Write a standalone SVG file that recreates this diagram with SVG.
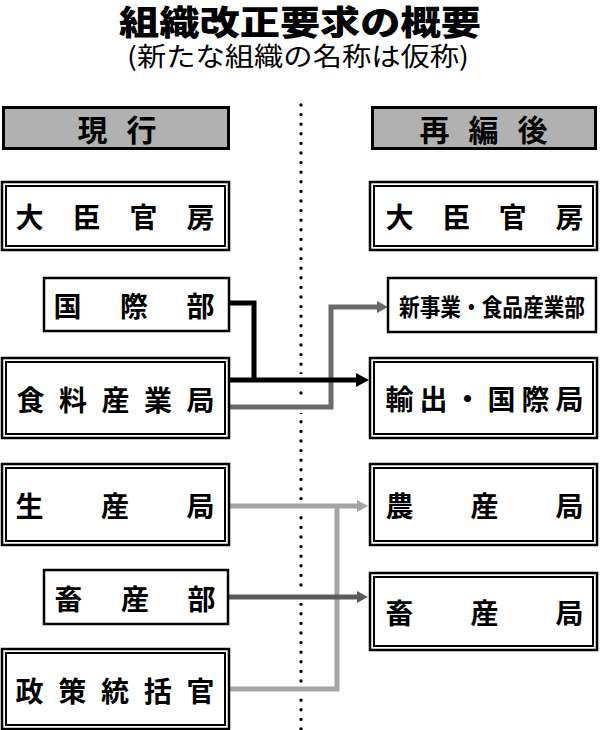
<svg xmlns="http://www.w3.org/2000/svg" width="600" height="730" viewBox="0 0 600 730">
<defs>
<style>
.t{font-family:"Noto Sans CJK JP","Noto Sans CJK SC",sans-serif;font-weight:700;font-size:28px;fill:#000;dominant-baseline:central}
.o{fill:#fff;stroke:#000;stroke-width:2.5}
.i{fill:none;stroke:#000;stroke-width:2}
.h{fill:#b1b1b1;stroke:#000;stroke-width:3}
.halo{fill:none;stroke:#fff;stroke-width:12}
.c{fill:none;stroke-width:5}
</style>
<marker id="aK" markerUnits="userSpaceOnUse" markerWidth="13" markerHeight="16" refX="0" refY="8" orient="auto"><path d="M0,1 L13,8 L0,15 z" fill="#000"/></marker>
<marker id="aD" markerUnits="userSpaceOnUse" markerWidth="11" markerHeight="14" refX="0" refY="7" orient="auto"><path d="M0,1 L11,7 L0,13 z" fill="#6b6b6b"/></marker>
<marker id="aL" markerUnits="userSpaceOnUse" markerWidth="11" markerHeight="14" refX="0" refY="7" orient="auto"><path d="M0,1 L11,7 L0,13 z" fill="#a4a4a4"/></marker>
<marker id="aM" markerUnits="userSpaceOnUse" markerWidth="11" markerHeight="14" refX="0" refY="7" orient="auto"><path d="M0,1 L11,7 L0,13 z" fill="#5c5c5c"/></marker>
</defs>
<rect width="600" height="730" fill="#fff"/>
<g id="title">
<text class="t" x="119" y="20" style="font-weight:900;font-size:34px" textLength="362" lengthAdjust="spacingAndGlyphs">組織改正要求の概要</text>
<text class="t" x="127" y="54" style="font-weight:400;font-size:26px" textLength="342" lengthAdjust="spacingAndGlyphs">(新たな組織の名称は仮称)</text>
</g>
<line id="divider" x1="301" y1="105" x2="301" y2="730" stroke="#000" stroke-width="3.4" stroke-linecap="round" stroke-dasharray="0 9.6"/>
<g id="header-current"><rect class="h" x="3.5" y="107.5" width="225" height="41"/><text class="t" x="77.5" y="128" style="font-size:30px" textLength="79" lengthAdjust="spacing">現行</text></g>
<g id="header-new"><rect class="h" x="372.5" y="107.5" width="223" height="41"/><text class="t" x="419.5" y="128" style="font-size:30px" textLength="128" lengthAdjust="spacing">再編後</text></g>
<g id="connectors">
<g class="halo">
<path d="M230 380 H356"/><path d="M230 407 H331 V307 H376"/><path d="M230 506 H356"/><path d="M230 689 H337 V506"/><path d="M228 597 H356"/>
</g>
<path class="c" stroke="#a4a4a4" d="M230 689 H337 V506"/>
<path class="c" stroke="#a4a4a4" d="M230 506 H357" marker-end="url(#aL)"/>
<path class="c" stroke="#5c5c5c" d="M228 597 H357" marker-end="url(#aM)"/>
<path class="c" stroke="#6b6b6b" d="M230 407 H331 V307 H377" marker-end="url(#aD)"/>
<path class="c" stroke="#000" d="M229 303 H254 V380"/>
<path class="c" stroke="#000" d="M230 380 H356" marker-end="url(#aK)"/>
</g>
<g id="L-daijin"><rect class="o" x="2" y="182" width="227" height="68"/><rect class="i" x="6" y="186" width="219" height="60"/><text class="t" x="15.5" y="216" textLength="199" lengthAdjust="spacing">大臣官房</text></g>
<g id="L-kokusai"><rect class="o" x="44" y="278" width="185" height="53"/><text class="t" x="53.5" y="305" textLength="161" lengthAdjust="spacing">国際部</text></g>
<g id="L-shokuryo"><rect class="o" x="2" y="358" width="227" height="80"/><rect class="i" x="6" y="362" width="219" height="72"/><text class="t" x="16.5" y="399" textLength="198" lengthAdjust="spacing">食料産業局</text></g>
<g id="L-seisan"><rect class="o" x="2" y="464" width="227" height="81"/><rect class="i" x="6" y="468" width="219" height="73"/><text class="t" x="15.5" y="505" textLength="199" lengthAdjust="spacing">生産局</text></g>
<g id="L-chikusanbu"><rect class="o" x="44" y="570" width="184" height="54"/><text class="t" x="54.5" y="598" textLength="161" lengthAdjust="spacing">畜産部</text></g>
<g id="L-seisaku"><rect class="o" x="2" y="649" width="227" height="80"/><rect class="i" x="6" y="653" width="219" height="72"/><text class="t" x="15.5" y="690" textLength="199" lengthAdjust="spacing">政策統括官</text></g>
<g id="R-daijin"><rect class="o" x="370" y="182" width="227" height="68"/><rect class="i" x="374" y="186" width="219" height="60"/><text class="t" x="385.5" y="216" textLength="198" lengthAdjust="spacing">大臣官房</text></g>
<g id="R-shinjigyo"><rect class="o" x="388" y="278" width="208" height="54"/><text class="t" x="399" y="305" style="font-size:24px" textLength="186" lengthAdjust="spacingAndGlyphs">新事業・食品産業部</text></g>
<g id="R-yushutsu"><rect class="o" x="370" y="358" width="227" height="80"/><rect class="i" x="374" y="362" width="219" height="72"/><text class="t" x="385.5" y="398" textLength="198" lengthAdjust="spacing">輸出・国際局</text></g>
<g id="R-nosan"><rect class="o" x="370" y="464" width="227" height="81"/><rect class="i" x="374" y="468" width="219" height="73"/><text class="t" x="385.5" y="505" textLength="198" lengthAdjust="spacing">農産局</text></g>
<g id="R-chikusankyoku"><rect class="o" x="370" y="573" width="227" height="77"/><rect class="i" x="374" y="577" width="219" height="69"/><text class="t" x="385.5" y="612" textLength="198" lengthAdjust="spacing">畜産局</text></g>
</svg>
